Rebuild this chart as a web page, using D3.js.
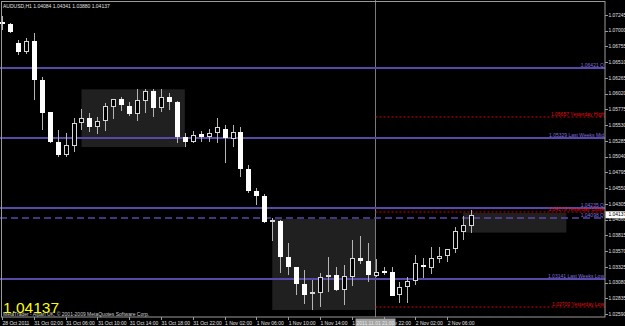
<!DOCTYPE html>
<html>
<head>
<meta charset="utf-8">
<script src="https://cdn.jsdelivr.net/npm/d3@7"></script>
<style>
  html, body { margin: 0; padding: 0; background: #000; overflow: hidden; }
  svg { display: block; }
  text { font-family: "Liberation Sans", Arial, sans-serif; }
</style>
</head>
<body>
<div id="chart"></div>
<script>
const TITLE = "AUDUSD,H1  1.04084 1.04341 1.03880 1.04137";
const LAST_PRICE = 1.04137;
const COPYRIGHT = "MetaTrader - Alpari UK, \u00a9 2001-2009 MetaQuotes Software Corp.";

// hourly bars, 28 Oct 22:00 -> 2 Nov 09:00
const OPEN  = [1.07136,1.07105,1.06802,1.06665,1.06845,1.06234,1.05731,1.05274,1.05062,1.05211,
               1.05560,1.05638,1.05507,1.05600,1.05818,1.05933,1.05829,1.05700,1.05912,1.06067,
               1.05803,1.05964,1.05896,1.05351,1.05264,1.05393,1.05351,1.05404,1.05471,1.05320,
               1.05420,1.04849,1.04511,1.04429,1.04019,1.04044,1.03475,1.03319,1.03059,1.02899,
               1.02915,1.03164,1.03199,1.02966,1.03173,1.03464,1.03422,1.03189,1.03257,1.03241,
               1.02888,1.03008,1.03111,1.03360,1.03313,1.03453,1.03500,1.03604,1.03864,1.03967];
const HIGH  = [1.07229,1.07121,1.06856,1.06892,1.06970,1.06280,1.05736,1.05456,1.05404,1.05638,
               1.05782,1.05725,1.05663,1.05876,1.05938,1.05974,1.05891,1.06089,1.06089,1.06089,
               1.06089,1.06036,1.05907,1.05409,1.05440,1.05440,1.05467,1.05638,1.05533,1.05533,
               1.05507,1.04911,1.04548,1.04460,1.04082,1.04055,1.03693,1.03324,1.03277,1.03122,
               1.03226,1.03484,1.03319,1.03355,1.03744,1.03806,1.03702,1.03444,1.03329,1.03329,
               1.03095,1.03173,1.03511,1.03459,1.03630,1.03630,1.03604,1.03951,1.04117,1.04211];
const LOW   = [1.07012,1.06965,1.06630,1.06634,1.05922,1.05456,1.05253,1.05036,1.05036,1.05118,
               1.05456,1.05429,1.05393,1.05445,1.05622,1.05751,1.05673,1.05600,1.05715,1.05653,
               1.05740,1.05767,1.05258,1.05191,1.05258,1.05274,1.05274,1.05258,1.04947,1.05186,
               1.04720,1.04471,1.04289,1.04009,1.03733,1.03226,1.03199,1.02888,1.02748,1.02655,
               1.02706,1.02940,1.02950,1.02733,1.03028,1.03371,1.03095,1.03164,1.03199,1.02873,
               1.02768,1.02759,1.03044,1.03148,1.03210,1.03381,1.03406,1.03546,1.03744,1.03848];
const CLOSE = [1.07105,1.06981,1.06662,1.06845,1.06234,1.05725,1.05264,1.05062,1.05222,1.05560,
               1.05638,1.05507,1.05600,1.05829,1.05933,1.05840,1.05705,1.05922,1.06067,1.05803,
               1.05974,1.05896,1.05351,1.05274,1.05378,1.05351,1.05404,1.05498,1.05326,1.05424,
               1.04849,1.04506,1.04429,1.04019,1.04051,1.03484,1.03319,1.03059,1.02888,1.02930,
               1.03164,1.03199,1.02966,1.03184,1.03459,1.03422,1.03199,1.03241,1.03226,1.02877,
               1.03017,1.03111,1.03381,1.03319,1.03459,1.03500,1.03599,1.03884,1.03977,1.04137];

const PRICE_TICKS = [1.07245,1.07000,1.06755,1.06510,1.06265,1.06020,1.05775,1.05530,1.05285,1.05040,
                     1.04795,1.04550,1.04305,1.04060,1.03815,1.03570,1.03325,1.03080,1.02835,1.02590];

const TIME_TICKS = [
  [0, "28 Oct 2011"], [4, "31 Oct 02:00"], [8, "31 Oct 06:00"], [12, "31 Oct 10:00"],
  [16, "31 Oct 14:00"], [20, "31 Oct 18:00"], [24, "31 Oct 22:00"], [28, "1 Nov 02:00"],
  [32, "1 Nov 06:00"], [36, "1 Nov 10:00"], [40, "1 Nov 14:00"], [44, "1 Nov 18:00"],
  [48, "1 Nov 22:00"], [52, "2 Nov 02:00"], [56, "2 Nov 06:00"]
];

const DAY_START = 47;
const DAY_START_LABEL = "2011.11.01 21:00";

const LEVELS = [
  { price: 1.06421, text: "1.06421  Q",             kind: "solid",  from: 0 },
  { price: 1.05657, text: "1.05657 Yesterday High",  kind: "dotted", from: DAY_START },
  { price: 1.05329, text: "1.05329 Last Weeks Mid",  kind: "solid",  from: 0 },
  { price: 1.04235, text: "1.04235  Q",             kind: "solid",  from: 0 },
  { price: 1.04179, text: "1.04179 Yesterday Close", kind: "dotted", from: DAY_START },
  { price: 1.04090, text: "1.04098  Q",             kind: "dashed", from: 0 },
  { price: 1.03141, text: "1.03141 Last Weeks Low",  kind: "solid",  from: 0 },
  { price: 1.02700, text: "1.02700 Yesterday Low",   kind: "dotted", from: DAY_START },
];

const SESSION_BOXES = [
  { from: 10, to: 23, hi: 1.06089, lo: 1.05191 },
  { from: 34, to: 47, hi: 1.04070, lo: 1.02655 },
  { from: 58, to: 71, hi: 1.04164, lo: 1.03860 },
];

const W = 625, H = 326;
const plotRight = 605, plotBottom = 317;

const svg = d3.select("#chart").append("svg")
  .attr("width", W).attr("height", H)
  .style("background", "#000");

svg.append("defs").append("clipPath").attr("id", "plot-clip")
  .append("rect").attr("x", 0).attr("y", 0).attr("width", plotRight).attr("height", plotBottom);

const x = d3.scaleLinear().domain([0, OPEN.length - 1]).range([2, 471]);
const y = d3.scaleLinear().domain([PRICE_TICKS[0], PRICE_TICKS[PRICE_TICKS.length - 1]]).range([15, 314.2]);

const plot = svg.append("g").attr("clip-path", "url(#plot-clip)");

// session boxes
plot.selectAll(".session")
  .data(SESSION_BOXES)
  .join("rect")
  .attr("x", (d) => x(d.from))
  .attr("y", (d) => y(d.hi))
  .attr("width", (d) => x(d.to) - x(d.from))
  .attr("height", (d) => y(d.lo) - y(d.hi))
  .attr("fill", "#202020");

// day separator
const sepX = Math.round(x(DAY_START)) - 0.5;
plot.append("line")
  .attr("x1", sepX).attr("x2", sepX)
  .attr("y1", 0).attr("y2", plotBottom)
  .attr("stroke", "#7a7a7a").attr("stroke-width", 1);

// levels
const LEVEL_STYLE = {
  solid:  { stroke: "#5a48a8", width: 2,   dash: null,  text: "#7e70dc" },
  dotted: { stroke: "#d00000", width: 1,   dash: "2,2", text: "#e01010" },
  dashed: { stroke: "#5a48a8", width: 1.5, dash: "7,4", text: "#7e70dc" },
};

plot.selectAll(".level")
  .data(LEVELS)
  .join("line")
  .attr("x1", (d) => d.from ? sepX : 0)
  .attr("x2", plotRight)
  .attr("y1", (d) => Math.round(y(d.price)))
  .attr("y2", (d) => Math.round(y(d.price)))
  .attr("stroke", (d) => LEVEL_STYLE[d.kind].stroke)
  .attr("stroke-width", (d) => LEVEL_STYLE[d.kind].width)
  .attr("stroke-dasharray", (d) => LEVEL_STYLE[d.kind].dash);

// candles
const bars = OPEN.map((o, i) => ({ i, o, h: HIGH[i], l: LOW[i], c: CLOSE[i] }));

plot.selectAll(".wick")
  .data(bars)
  .join("line")
  .attr("x1", (d) => Math.round(x(d.i)) + 0.5)
  .attr("x2", (d) => Math.round(x(d.i)) + 0.5)
  .attr("y1", (d) => Math.round(y(d.h)))
  .attr("y2", (d) => Math.round(y(d.l)))
  .attr("stroke", "#b4b4b4");

plot.selectAll(".body")
  .data(bars)
  .join("rect")
  .each(function (d) {
    const top = Math.round(y(Math.max(d.o, d.c)));
    const bot = Math.round(y(Math.min(d.o, d.c)));
    const bx = Math.round(x(d.i)) - 2;
    const el = d3.select(this);
    if (d.c > d.o) {
      el.attr("x", bx + 0.5).attr("y", top + 0.5)
        .attr("width", 4).attr("height", Math.max(1, bot - top - 1))
        .attr("fill", "#000").attr("stroke", "#d8d8d8");
    } else {
      el.attr("x", bx).attr("y", top)
        .attr("width", 5).attr("height", Math.max(1, bot - top))
        .attr("fill", "#fff");
    }
  });

// level labels
plot.selectAll(".level-label")
  .data(LEVELS)
  .join("text")
  .attr("x", plotRight - 1)
  .attr("y", (d) => Math.round(y(d.price)) - 1.5)
  .attr("text-anchor", "end")
  .attr("font-size", "5px")
  .attr("fill", (d) => LEVEL_STYLE[d.kind].text)
  .text((d) => d.text);

// frame
svg.append("rect")
  .attr("x", 1.5).attr("y", 1.5)
  .attr("width", plotRight - 1.5).attr("height", plotBottom - 1.5)
  .attr("fill", "none").attr("stroke", "#9a9a9a");

// price axis
const yAxis = svg.append("g");
yAxis.selectAll("line")
  .data(PRICE_TICKS)
  .join("line")
  .attr("x1", plotRight).attr("x2", plotRight + 3)
  .attr("y1", (d) => Math.round(y(d)) + 0.5)
  .attr("y2", (d) => Math.round(y(d)) + 0.5)
  .attr("stroke", "#9a9a9a");
yAxis.selectAll("text")
  .data(PRICE_TICKS)
  .join("text")
  .attr("x", plotRight + 3.5)
  .attr("y", (d) => y(d))
  .attr("dy", "0.35em")
  .attr("font-size", "4.9px")
  .attr("fill", "#e0e0e0")
  .text((d) => d3.format(".5f")(d));

// current price box
svg.append("rect")
  .attr("x", plotRight + 0.5).attr("y", y(LAST_PRICE) - 3.5)
  .attr("width", W - plotRight).attr("height", 7)
  .attr("fill", "#fff");
svg.append("text")
  .attr("x", plotRight + 3.5).attr("y", y(LAST_PRICE))
  .attr("dy", "0.35em")
  .attr("font-size", "4.9px").attr("fill", "#000")
  .text(d3.format(".5f")(LAST_PRICE));

// time axis
const xAxis = svg.append("g");
xAxis.selectAll("line")
  .data(TIME_TICKS)
  .join("line")
  .attr("x1", (d) => Math.round(x(d[0])) + 0.5)
  .attr("x2", (d) => Math.round(x(d[0])) + 0.5)
  .attr("y1", plotBottom).attr("y2", plotBottom + 3)
  .attr("stroke", "#9a9a9a");
xAxis.selectAll("text")
  .data(TIME_TICKS)
  .join("text")
  .attr("x", (d) => x(d[0]) + 0.5)
  .attr("y", 324.5)
  .attr("font-size", "5px")
  .attr("fill", "#e0e0e0")
  .text((d) => d[1]);

// day separator time box
svg.append("rect")
  .attr("x", sepX - 20).attr("y", 318.5)
  .attr("width", 40).attr("height", 7.5)
  .attr("fill", "#a4a4a4");
svg.append("text")
  .attr("x", sepX).attr("y", 324.5)
  .attr("text-anchor", "middle")
  .attr("font-size", "5px").attr("fill", "#e8e8e8")
  .text(DAY_START_LABEL);

// title, big price, copyright
svg.append("text")
  .attr("x", 3).attr("y", 7.5)
  .attr("font-size", "5px").attr("fill", "#e0e0e0")
  .text(TITLE);

svg.append("text")
  .attr("x", 3).attr("y", 312.5)
  .attr("font-size", "15.5px").attr("fill", "#ffff00")
  .text(d3.format(".5f")(LAST_PRICE));

svg.append("text")
  .attr("x", 3).attr("y", 315.5)
  .attr("font-size", "5px").attr("fill", "#d0d0d0")
  .text(COPYRIGHT);
</script>
</body>
</html>
